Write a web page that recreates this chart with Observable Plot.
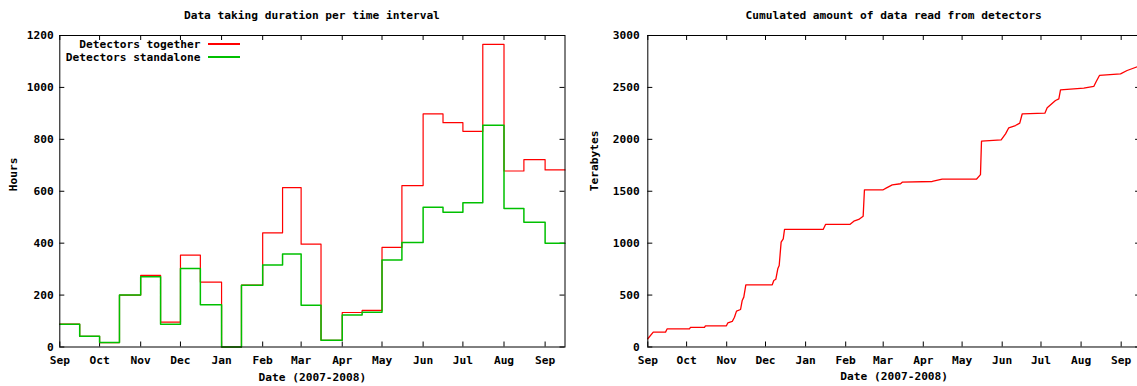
<!DOCTYPE html>
<html>
<head>
<meta charset="utf-8">
<script src="https://cdn.jsdelivr.net/npm/d3@7"></script>
<script src="https://cdn.jsdelivr.net/npm/@observablehq/plot@0.6"></script>
<style>
  html, body { margin: 0; padding: 0; background: #fff; overflow: hidden; }
  #wrap {
    position: relative; width: 1137px; height: 386px; overflow: hidden;
    font-family: "DejaVu Sans Mono", monospace; font-weight: bold; font-size: 11.2px; color: #000;
  }
  .panel { position: absolute; top: 0; height: 386px; }
  .title { position: absolute; top: 3px; height: 26px; line-height: 26px; text-align: center; white-space: nowrap; }
  .chart { position: absolute; top: 26px; left: 0; }
  .legend { position: absolute; left: 0; top: 37.5px; width: 240px; }
  .legend .row { display: flex; justify-content: flex-end; align-items: center; height: 13px; white-space: nowrap; }
  .legend .swatch { width: 32px; height: 1.4px; margin-left: 7.5px; }
</style>
</head>
<body>
<div id="wrap"></div>
<script>
// Half-month time intervals (start dates) and the end of the last interval
const binStarts = [
  "2007-09-01", "2007-09-16", "2007-10-01", "2007-10-16", "2007-11-01", "2007-11-16",
  "2007-12-01", "2007-12-16", "2008-01-01", "2008-01-16", "2008-02-01", "2008-02-16",
  "2008-03-01", "2008-03-16", "2008-04-01", "2008-04-16", "2008-05-01", "2008-05-16",
  "2008-06-01", "2008-06-16", "2008-07-01", "2008-07-16", "2008-08-01", "2008-08-16",
  "2008-09-01"
];
const binEnd = "2008-09-16";

// Data taking duration (hours) per interval
const hoursTogether = [
  88, 41, 17, 200, 276, 96, 354, 250, 0, 238, 440, 614,
  396, 26, 133, 141, 384, 622, 898, 864, 831, 1166, 678, 722, 682
];
const hoursStandalone = [
  88, 41, 17, 200, 271, 88, 302, 163, 0, 238, 316, 358,
  161, 26, 123, 134, 335, 403, 538, 519, 556, 854, 534, 481, 400
];

const seriesNames = ["Detectors together", "Detectors standalone"];
const seriesColors = ["#ff0000", "#00c000"];

// Cumulated amount of data read from detectors (terabytes)
const readTimes = [
  "2007-09-01 00:00", "2007-09-05 05:00", "2007-09-14 17:00", "2007-09-16 00:00",
  "2007-10-03 05:00", "2007-10-04 00:00", "2007-10-14 19:00", "2007-10-15 14:00",
  "2007-10-31 19:00", "2007-11-01 22:00", "2007-11-05 07:00", "2007-11-07 00:00",
  "2007-11-08 14:00", "2007-11-11 17:00", "2007-11-13 00:00", "2007-11-14 05:00",
  "2007-11-15 19:00", "2007-12-06 05:00", "2007-12-07 10:00", "2007-12-09 00:00",
  "2007-12-10 12:00", "2007-12-11 14:00", "2007-12-13 02:00", "2007-12-14 17:00",
  "2007-12-15 17:00", "2008-01-14 14:00", "2008-01-16 10:00", "2008-02-04 05:00",
  "2008-02-07 07:00", "2008-02-11 02:00", "2008-02-14 12:00", "2008-02-15 12:00",
  "2008-03-01 00:00", "2008-03-03 14:00", "2008-03-08 00:00", "2008-03-14 10:00",
  "2008-03-15 17:00", "2008-04-07 22:00", "2008-04-15 14:00", "2008-05-12 02:00",
  "2008-05-15 05:00", "2008-05-16 00:00", "2008-05-31 05:00", "2008-06-03 14:00",
  "2008-06-06 02:00", "2008-06-11 07:00", "2008-06-14 14:00", "2008-06-16 12:00",
  "2008-07-04 00:00", "2008-07-05 19:00", "2008-07-12 05:00", "2008-07-14 19:00",
  "2008-07-16 02:00", "2008-08-03 02:00", "2008-08-10 19:00", "2008-08-12 17:00",
  "2008-08-15 05:00", "2008-08-31 12:00", "2008-09-05 14:00", "2008-09-13 14:00"
];
const readTB = [
  79, 143, 143, 175,
  175, 188, 188, 204,
  204, 233, 246, 287,
  345, 361, 448, 480,
  599, 599, 640, 653,
  753, 785, 1010, 1042,
  1132, 1132, 1180, 1180,
  1212, 1228, 1260, 1514,
  1514, 1533, 1562, 1572,
  1587, 1594, 1616, 1616,
  1660, 1982, 1995, 2053,
  2111, 2133, 2156, 2246,
  2252, 2304, 2374, 2390,
  2477, 2493, 2509, 2557,
  2615, 2631, 2663, 2700
];

// Axis ticks
const monthTicks = [
  "2007-09-01", "2007-10-01", "2007-11-01", "2007-12-01", "2008-01-01", "2008-02-01",
  "2008-03-01", "2008-04-01", "2008-05-01", "2008-06-01", "2008-07-01", "2008-08-01",
  "2008-09-01"
];
const hourTicks = [0, 200, 400, 600, 800, 1000, 1200];
const tbTicks = [0, 500, 1000, 1500, 2000, 2500, 3000];

const xTitle = "Date (2007-2008)";
const FONT = "'DejaVu Sans Mono', monospace";

const parseDay = d3.utcParse("%Y-%m-%d");
const parseTime = d3.utcParse("%Y-%m-%d %H:%M");
const months = monthTicks.map(parseDay);
const xDomain = [parseDay(binStarts[0]), parseDay(binEnd)];

const edges = binStarts.concat(binEnd).map(parseDay);
const stepRows = (values) => edges.map((date, i) => ({date, value: values[Math.min(i, values.length - 1)]}));
const readRows = readTimes.map((t, i) => ({date: parseTime(t), tb: readTB[i]}));

const H = 360, MT = 9, MB = 39.5, TICK = 5;
const plotH = H - MT - MB;

function panel({left, marginLeft, plotW, marginRight, title, yLabel, yLabelDx, yTicks, yDomain, tickPadY, lines, legend}) {
  const wrap = document.getElementById("wrap");
  const div = document.createElement("div");
  div.className = "panel";
  const width = marginLeft + plotW + marginRight;
  div.style.left = left + "px";
  div.style.width = width + "px";

  const t = document.createElement("div");
  t.className = "title";
  t.style.left = marginLeft + "px";
  t.style.width = plotW + "px";
  t.textContent = title;
  div.appendChild(t);

  const chart = Plot.plot({
    width, height: H,
    marginLeft, marginRight, marginTop: MT, marginBottom: MB,
    style: {fontFamily: FONT, fontSize: "11.2px", fontWeight: "bold", color: "#000", background: "transparent", overflow: "visible"},
    x: {type: "utc", domain: xDomain},
    y: {domain: yDomain},
    marks: [
      Plot.axisX(months, {anchor: "bottom", tickSize: 0, tickPadding: 9.5, tickFormat: "%b", label: null}),
      Plot.axisY(yTicks, {anchor: "left", tickSize: 0, tickPadding: tickPadY, tickFormat: d => String(d), label: null}),
      // inward ticks on all four sides
      Plot.tickX(months, {x: d => d, insetTop: plotH - TICK, stroke: "#000"}),
      Plot.tickX(months, {x: d => d, insetBottom: plotH - TICK, stroke: "#000"}),
      Plot.tickY(yTicks, {y: d => d, insetRight: plotW - TICK, stroke: "#000"}),
      Plot.tickY(yTicks, {y: d => d, insetLeft: plotW - TICK, stroke: "#000"}),
      ...lines,
      Plot.frame({stroke: "#000", strokeWidth: 1}),
      Plot.text([xTitle], {frameAnchor: "bottom", dy: 33.5, fill: "#000"}),
      Plot.text([yLabel], {frameAnchor: "left", rotate: -90, dx: yLabelDx, fill: "#000"})
    ]
  });
  chart.classList.add("chart");
  div.appendChild(chart);

  if (legend) {
    const lg = document.createElement("div");
    lg.className = "legend";
    seriesNames.forEach((name, i) => {
      const row = document.createElement("div");
      row.className = "row";
      const s = document.createElement("span");
      s.textContent = name;
      const sw = document.createElement("span");
      sw.className = "swatch";
      sw.style.background = seriesColors[i];
      row.appendChild(s);
      row.appendChild(sw);
      lg.appendChild(row);
    });
    div.appendChild(lg);
  }
  wrap.appendChild(div);
}

// Left: duration per half-month interval (standalone drawn on top)
panel({
  left: 0, marginLeft: 59.3, plotW: 505.2, marginRight: 5.5,
  title: "Data taking duration per time interval",
  yLabel: "Hours", yLabelDx: -46.3,
  yTicks: hourTicks, yDomain: [0, 1200], tickPadY: 6,
  legend: true,
  lines: [
    Plot.line(stepRows(hoursTogether), {x: "date", y: "value", curve: "step-after", stroke: seriesColors[0], strokeWidth: 1.2}),
    Plot.line(stepRows(hoursStandalone), {x: "date", y: "value", curve: "step-after", stroke: seriesColors[1], strokeWidth: 1.5})
  ]
});

// Right: cumulated data volume
panel({
  left: 570, marginLeft: 77.3, plotW: 492.8, marginRight: 5,
  title: "Cumulated amount of data read from detectors",
  yLabel: "Terabytes", yLabelDx: -53.3,
  yTicks: tbTicks, yDomain: [0, 3000], tickPadY: 8,
  legend: false,
  lines: [
    Plot.line(readRows, {x: "date", y: "tb", stroke: "#ff0000", strokeWidth: 1.3})
  ]
});
</script>
</body>
</html>
